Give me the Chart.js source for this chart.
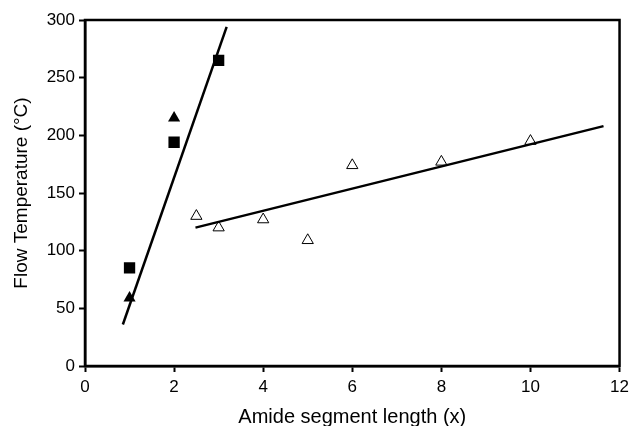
<!DOCTYPE html>
<html>
<head>
<meta charset="utf-8">
<script src="https://cdn.jsdelivr.net/npm/chart.js@4"></script>
<style>
  html, body { margin: 0; padding: 0; background: #fff; }
  #wrap { width: 634px; height: 426px; }
</style>
</head>
<body>
<div id="wrap"><canvas id="chart"></canvas></div>
<script>
// data
const squareX = [1, 2, 3];
const squareY = [85, 194, 265];
const filledTriX = [1, 2];
const filledTriY = [59, 215];
const openTriX = [2.5, 3, 4, 5, 6, 8, 10];
const openTriY = [130, 120, 127, 109, 174, 177, 195];
// fitted lines (end points)
const steepX = [0.85, 3.18];
const steepY = [36, 294];
const shallowX = [2.48, 11.64];
const shallowY = [120, 208];

const toPts = (xs, ys) => xs.map((x, i) => ({ x: x, y: ys[i] }));

// box round the plot area
const frame = {
    id: 'frame',
    afterDatasetsDraw(chart) {
        const { ctx, chartArea: a } = chart;
        ctx.save();
        ctx.strokeStyle = '#000';
        ctx.lineWidth = 2.5;
        ctx.strokeRect(a.left, a.top, a.right - a.left, a.bottom - a.top);
        ctx.restore();
    }
};

const FAMILY = 'Liberation Sans, Arial, sans-serif';
const tickFont = { family: FAMILY, size: 17 };

new Chart(document.getElementById('chart').getContext('2d'), {
    type: 'scatter',
    data: {
        datasets: [
            {
                data: toPts(steepX, steepY),
                showLine: true, borderColor: '#000', borderWidth: 2.5,
                pointRadius: 0
            },
            {
                data: toPts(shallowX, shallowY),
                showLine: true, borderColor: '#000', borderWidth: 2.5,
                pointRadius: 0
            },
            {
                data: toPts(squareX, squareY),
                pointStyle: 'rect', pointRadius: 8,
                backgroundColor: '#000', borderColor: '#000', borderWidth: 0
            },
            {
                data: toPts(filledTriX, filledTriY),
                pointStyle: 'triangle', pointRadius: 7,
                backgroundColor: '#000', borderColor: '#000', borderWidth: 0
            },
            {
                data: toPts(openTriX, openTriY),
                pointStyle: 'triangle', pointRadius: 6.5,
                backgroundColor: '#fff', borderColor: '#000', borderWidth: 1
            }
        ]
    },
    options: {
        responsive: true,
        maintainAspectRatio: false,
        animation: false,
        layout: { padding: { top: 20, right: 13, left: 0, bottom: 0 } },
        plugins: {
            legend: { display: false },
            tooltip: { enabled: false }
        },
        scales: {
            x: {
                type: 'linear', min: 0, max: 12,
                afterFit: (s) => { s.height = 60; },
                border: { color: '#000', width: 2.5 },
                grid: { drawOnChartArea: false, color: '#000', tickLength: 6, tickWidth: 2 },
                ticks: { stepSize: 2, color: '#000', font: tickFont, padding: 5 },
                title: { display: true, text: 'Amide segment length (x)', color: '#000', font: { family: FAMILY, size: 20 }, padding: { top: 0, bottom: -3 } }
            },
            y: {
                type: 'linear', min: 0, max: 300,
                afterFit: (s) => { s.width = 85; },
                border: { color: '#000', width: 2.5 },
                grid: { drawOnChartArea: false, color: '#000', tickLength: 6, tickWidth: 2 },
                ticks: { stepSize: 50, color: '#000', font: tickFont, padding: 4 },
                title: { display: true, text: 'Flow Temperature (°C)', color: '#000', font: { family: FAMILY, size: 19 }, padding: { top: 10, bottom: 0 } }
            }
        }
    },
    plugins: [frame]
});
</script>
</body>
</html>
